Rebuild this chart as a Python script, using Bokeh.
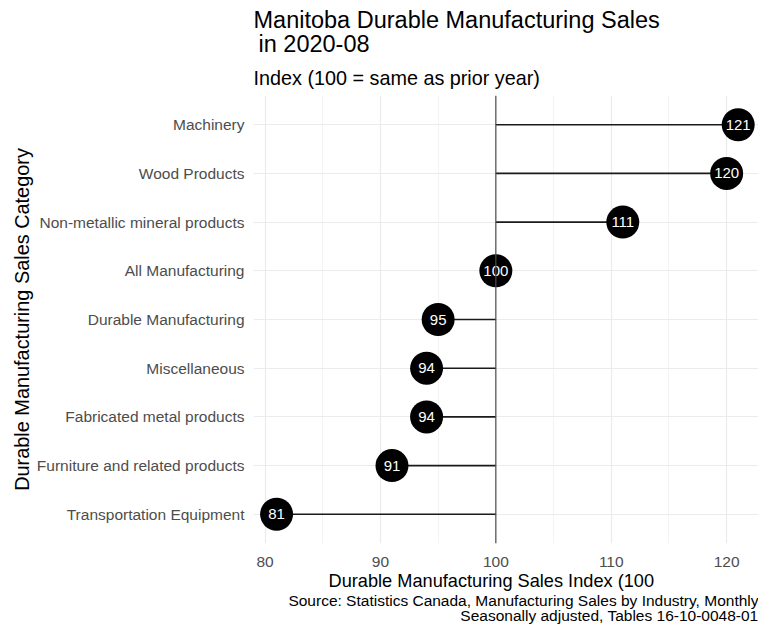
from bokeh.plotting import figure
from bokeh.models import Title, Range1d, FactorRange, ColumnDataSource, Span, FixedTicker
from bokeh.embed import file_html
from bokeh.resources import INLINE
from bokeh.core.properties import value

# ---- data ----
categories = [
    "Machinery",
    "Wood Products",
    "Non-metallic mineral products",
    "All Manufacturing",
    "Durable Manufacturing",
    "Miscellaneous",
    "Fabricated metal products",
    "Furniture and related products",
    "Transportation Equipment",
]
index_values = [121, 120, 111, 100, 95, 94, 94, 91, 81]
baseline = 100
x_ticks = [80, 90, 100, 110, 120]
x_minor_ticks = [85, 95, 105, 115]

title_line1 = "Manitoba Durable Manufacturing Sales"
title_line2 = " in 2020-08"
subtitle = "Index (100 = same as prior year)"
x_label = "Durable Manufacturing Sales Index (100"
y_label = "Durable Manufacturing Sales Category"
caption1 = "Source: Statistics Canada, Manufacturing Sales by Industry, Monthly"
caption2 = "Seasonally adjusted, Tables 16-10-0048-01"

FONT = "Liberation Sans"

src = ColumnDataSource(dict(
    cat=categories,
    val=index_values,
    base=[baseline] * len(categories),
    lbl=[str(v) for v in index_values],
))

p = figure(
    width=758, height=632,
    y_range=FactorRange(factors=list(reversed(categories)), range_padding=0.1,
                        range_padding_units="absolute"),
    x_range=Range1d(79, 122.76),
    output_backend="svg", toolbar_location=None, title=None,
    min_border_left=253, min_border_right=0, min_border_top=95, min_border_bottom=89,
)
p.outline_line_color = None
p.background_fill_color = "white"
p.border_fill_color = "white"

# grid
p.xgrid.ticker = FixedTicker(ticks=x_ticks, minor_ticks=x_minor_ticks)
p.xgrid.grid_line_color = "#EBEBEB"
p.xgrid.grid_line_width = 1.2
p.xgrid.minor_grid_line_color = "#EBEBEB"
p.xgrid.minor_grid_line_width = 0.6
p.ygrid.grid_line_color = "#EBEBEB"
p.ygrid.grid_line_width = 1.2

# axes
p.xaxis.ticker = FixedTicker(ticks=x_ticks)
for ax in (p.xaxis, p.yaxis):
    ax.axis_line_color = None
    ax.major_tick_line_color = None
    ax.minor_tick_line_color = None
    ax.major_label_text_font = FONT
    ax.major_label_text_font_size = "15.5px"
    ax.major_label_text_color = "#4D4D4D"
p.xaxis.major_label_standoff = 7
p.yaxis.major_label_standoff = 3

p.yaxis.axis_label = y_label
p.yaxis.axis_label_text_font = FONT
p.yaxis.axis_label_text_font_size = "19.9px"
p.yaxis.axis_label_text_font_style = "normal"
p.yaxis.axis_label_text_color = "black"
p.yaxis.axis_label_standoff = 1

# reference line at 100
p.add_layout(Span(location=baseline, dimension="height", line_color="#4D4D4D", line_width=1.2))

# lollipops
p.segment(x0="base", y0="cat", x1="val", y1="cat", source=src, line_color="#1a1a1a", line_width=1.6)
p.scatter(x="val", y="cat", source=src, size=33, fill_color="black", line_color=None)
p.text(x="val", y="cat", text="lbl", source=src, text_color="white",
       text_font=value(FONT), text_font_size="15px",
       text_align="center", text_baseline="middle")

# titles above (first added is nearest the plot)
p.add_layout(Title(text=subtitle, align="left", offset=0, text_font=FONT, text_font_size="19.8px",
                   text_font_style="normal", text_color="black", standoff=14), "above")
p.add_layout(Title(text=title_line2, align="left", offset=5, text_font=FONT, text_font_size="23.5px",
                   text_font_style="normal", text_color="black", standoff=1), "above")
p.add_layout(Title(text=title_line1, align="left", offset=0, text_font=FONT, text_font_size="23.5px",
                   text_font_style="normal", text_color="black", standoff=-8), "above")

# x label and caption below
p.add_layout(Title(text=x_label, align="left", offset=75, text_font=FONT, text_font_size="18.2px",
                   text_font_style="normal", text_color="black", standoff=-2), "below")
p.add_layout(Title(text=caption1, align="right", text_font=FONT, text_font_size="15.5px",
                   text_font_style="normal", text_color="black", standoff=0), "below")
p.add_layout(Title(text=caption2, align="right", text_font=FONT, text_font_size="15.5px",
                   text_font_style="normal", text_color="black", standoff=-8), "below")

open("out.html", "w").write(file_html(p, INLINE))
